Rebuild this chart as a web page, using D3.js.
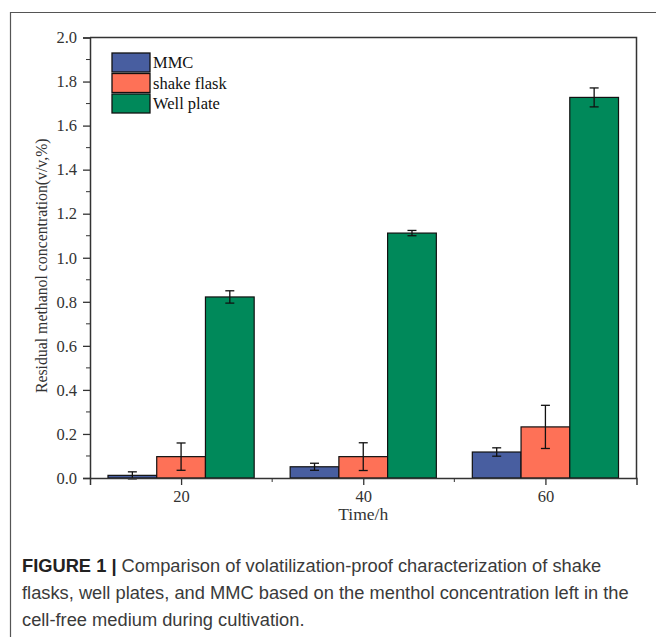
<!DOCTYPE html>
<html>
<head>
<meta charset="utf-8">
<script src="https://cdn.jsdelivr.net/npm/d3@7"></script>
<style>
  body { margin: 0; background: #fff; }
  svg { display: block; }
</style>
</head>
<body>
<script>
// data
var times = [20, 40, 60];
var seriesNames = ["MMC", "shake flask", "Well plate"];
var mmc = [0.012, 0.051, 0.118];
var mmcErr = [0.016, 0.016, 0.019];
var shake = [0.097, 0.097, 0.232];
var shakeErr = [0.062, 0.063, 0.098];
var well = [0.822, 1.112, 1.728];
var wellErr = [0.028, 0.012, 0.043];
var yTicks = [0, 0.2, 0.4, 0.6, 0.8, 1.0, 1.2, 1.4, 1.6, 1.8, 2.0];

var colors = ["#485ea0", "#fe7157", "#00895a"];

var width = 656,
    height = 637;

var x = d3.scaleLinear().domain([10, 70]).range([90, 636.5]);
var y = d3.scaleLinear().domain([0, 2]).range([478, 37.5]);
var barW = 5.35; // in x units

var series = [
  {name: seriesNames[0], vals: mmc, errs: mmcErr},
  {name: seriesNames[1], vals: shake, errs: shakeErr},
  {name: seriesNames[2], vals: well, errs: wellErr}
];

var svg = d3.select("body").append("svg")
    .attr("width", width)
    .attr("height", height);

// figure frame (cropped: left + top only)
svg.append("path")
    .attr("d", "M10.5,637V12.5H656")
    .attr("fill", "none")
    .attr("stroke", "#555")
    .attr("stroke-width", 1.2);

// bars
series.forEach(function(s, i) {
  var g = svg.append("g");
  var pts = times.map(function(t, j) {
    return {t: t, v: s.vals[j], e: s.errs[j], x0: t + (i - 1.5) * barW};
  });
  g.selectAll("rect")
      .data(pts)
    .enter().append("rect")
      .attr("x", function(d) { return x(d.x0); })
      .attr("width", function(d) { return x(d.x0 + barW) - x(d.x0); })
      .attr("y", function(d) { return y(d.v); })
      .attr("height", function(d) { return y(0) - y(d.v); })
      .attr("fill", colors[i])
      .attr("stroke", "#111")
      .attr("stroke-width", 1.2);

  var eb = g.selectAll("g.err")
      .data(pts)
    .enter().append("g")
      .attr("stroke", "#111")
      .attr("stroke-width", 1.3);
  eb.append("line")
      .attr("x1", function(d) { return x(d.x0 + barW / 2); })
      .attr("x2", function(d) { return x(d.x0 + barW / 2); })
      .attr("y1", function(d) { return y(d.v + d.e); })
      .attr("y2", function(d) { return y(d.v - d.e); });
  [1, -1].forEach(function(sg) {
    eb.append("line")
        .attr("x1", function(d) { return x(d.x0 + barW / 2) - 4.5; })
        .attr("x2", function(d) { return x(d.x0 + barW / 2) + 4.5; })
        .attr("y1", function(d) { return y(d.v + sg * d.e); })
        .attr("y2", function(d) { return y(d.v + sg * d.e); });
  });
});

// plot box top + right
svg.append("path")
    .attr("d", "M" + x(10) + "," + y(2) + "H" + x(70) + "V" + y(0))
    .attr("fill", "none")
    .attr("stroke", "#333")
    .attr("stroke-width", 1.5);

var tickFont = "'Liberation Serif', 'Times New Roman', serif";

// y axis
var yAxis = svg.append("g")
    .attr("transform", "translate(" + x(10) + ",0)")
    .call(d3.axisLeft(y).tickValues(yTicks).tickFormat(d3.format(".1f")).tickSize(7).tickPadding(6));
yAxis.append("g").selectAll("line")
    .data(d3.range(0.1, 2, 0.2))
  .enter().append("line")
    .attr("x1", -4).attr("x2", 0)
    .attr("y1", function(d) { return y(d); })
    .attr("y2", function(d) { return y(d); })
    .attr("stroke", "#333");

// x axis
var xAxis = svg.append("g")
    .attr("transform", "translate(0," + y(0) + ")")
    .call(d3.axisBottom(x).tickValues(times).tickFormat(d3.format("d")).tickSize(7).tickPadding(5));
xAxis.append("g").selectAll("line")
    .data([30, 50])
  .enter().append("line")
    .attr("x1", function(d) { return x(d); })
    .attr("x2", function(d) { return x(d); })
    .attr("y1", 0).attr("y2", 4)
    .attr("stroke", "#333");

[yAxis, xAxis].forEach(function(a) {
  a.selectAll(".domain").attr("stroke", "#333").attr("stroke-width", 1.5);
  a.selectAll(".tick line").attr("stroke", "#333").attr("stroke-width", 1.3);
  a.selectAll("text")
      .attr("fill", "#333")
      .style("font-family", tickFont)
      .style("font-size", "16.5px");
});

// axis titles
svg.append("text")
    .attr("x", x(40))
    .attr("y", 520)
    .attr("text-anchor", "middle")
    .attr("fill", "#333")
    .style("font-family", tickFont)
    .style("font-size", "17.5px")
    .text("Time/h");

svg.append("text")
    .attr("transform", "translate(47," + (y(1) + 8) + ") rotate(-90)")
    .attr("text-anchor", "middle")
    .attr("fill", "#333")
    .style("font-family", tickFont)
    .style("font-size", "15.8px")
    .text("Residual methanol concentration(v/v,%)");

// legend
var legend = svg.append("g")
    .attr("transform", "translate(112,53)");
var li = legend.selectAll("g")
    .data(seriesNames)
  .enter().append("g")
    .attr("transform", function(d, i) { return "translate(0," + i * 20.5 + ")"; });
li.append("rect")
    .attr("width", 38)
    .attr("height", 19)
    .attr("fill", function(d, i) { return colors[i]; })
    .attr("stroke", "#111")
    .attr("stroke-width", 1.3);
li.append("text")
    .attr("x", 41)
    .attr("y", 15)
    .attr("fill", "#111")
    .style("font-family", tickFont)
    .style("font-size", "16.5px")
    .text(function(d) { return d; });

// caption
var capLines = [
  [{b: true, t: "FIGURE 1 | "}, {b: false, t: "Comparison of volatilization-proof characterization of shake"}],
  [{b: false, t: "flasks, well plates, and MMC based on the menthol concentration left in the"}],
  [{b: false, t: "cell-free medium during cultivation."}]
];
var cap = svg.append("g")
    .style("font-family", "'Liberation Sans', Arial, sans-serif")
    .style("font-size", "18.3px");
capLines.forEach(function(line, i) {
  var t = cap.append("text")
      .attr("x", 22)
      .attr("y", 572 + i * 27);
  line.forEach(function(seg) {
    t.append("tspan")
        .attr("font-weight", seg.b ? "bold" : "normal")
        .attr("fill", seg.b ? "#222" : "#3a3a3a")
        .text(seg.t);
  });
});
</script>
</body>
</html>
